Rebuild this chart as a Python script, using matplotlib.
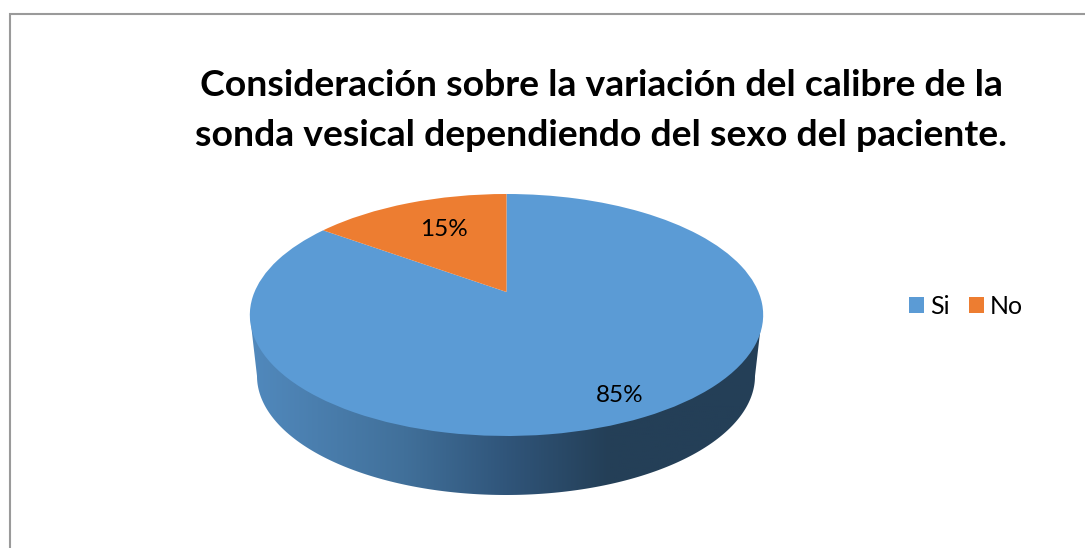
import numpy as np
import matplotlib
matplotlib.use("Agg")
import matplotlib.pyplot as plt
from matplotlib.colors import LinearSegmentedColormap
from matplotlib.patches import Polygon
from matplotlib.transforms import Transform

title = "Consideración sobre la variación del calibre de la\nsonda vesical dependiendo del sexo del paciente."
labels = ["Si", "No"]
values = [85, 15]
colors = ["#5B9BD5", "#ED7D31"]

W, H = 1085, 548
plt.rcParams["font.family"] = ["Lato", "DejaVu Sans"]


# tilted disc: maps the unit circle of the pie to the 3d top face (pixels)
class TiltedDisc(Transform):
    input_dims = 2
    output_dims = 2

    def transform_non_affine(self, xy):
        xy = np.asarray(xy, dtype=float)
        u, v = xy[:, 0], xy[:, 1]
        d = 1 + 0.19 * v
        return np.column_stack([506.5 + 252 * u / d, 315 - (121 * v + 23) / d])


fig = plt.figure(figsize=(W / 100, H / 100), dpi=100)
ax = fig.add_axes([0, 0, 1, 1])

wedges, _, pct = ax.pie(values, colors=colors, startangle=90, counterclock=False,
                        autopct="%d%%", textprops={"fontsize": 17.5, "color": "black"})
ax.set_aspect("auto")
ax.set_xlim(0, W)
ax.set_ylim(H, 0)
ax.axis("off")

for w in wedges:
    w.set_transform(TiltedDisc() + ax.transData)
    w.set_zorder(3)
    w.set_linewidth(0)

pct[0].set_position((620, 395))
pct[1].set_position((444, 229))
for t in pct:
    t.set_zorder(4)

# side wall of the pie, horizontal gradient clipped to the outline
t = np.linspace(np.pi, 0, 200)
low_x = 506 + 249 * np.cos(t)
low_y = 376 + 119 * np.sin(t)
outline = np.column_stack([
    np.r_[250, 252, low_x, 760, 762],
    np.r_[315, 333, low_y, 333, 315],
])
clip = Polygon(outline, closed=True, transform=ax.transData, fc="none", ec="none")
ax.add_patch(clip)
cmap = LinearSegmentedColormap.from_list("side", [
    (0.0, "#5189BD"), (0.30, "#41709A"), (0.50, "#30557A"),
    (0.70, "#243F57"), (1.0, "#243F57"),
])
im = ax.imshow(np.linspace(0, 1, 256)[None, :], cmap=cmap, aspect="auto",
               extent=(250, 763, 500, 310), zorder=2)
im.set_clip_path(clip)
ax.set_xlim(0, W)
ax.set_ylim(H, 0)

# chart frame, only top and left are inside the crop
ax.plot([9.5, 9.5, W], [H, 14, 14], color="#9A9A9A", lw=1.5, solid_joinstyle="miter", zorder=1)

ax.text(601, 110.5, title, ha="center", va="center", fontsize=26.9, fontweight="bold",
        linespacing=1.64, color="black")

ax.legend(wedges, labels, ncol=2, loc="center left", bbox_to_anchor=(909 / W, 1 - 306 / H),
          frameon=False, fontsize=18, handlelength=0.6, handleheight=0.6,
          handletextpad=0.25, columnspacing=0.75, borderpad=0, borderaxespad=0)

fig.savefig("out.png", dpi=100)
